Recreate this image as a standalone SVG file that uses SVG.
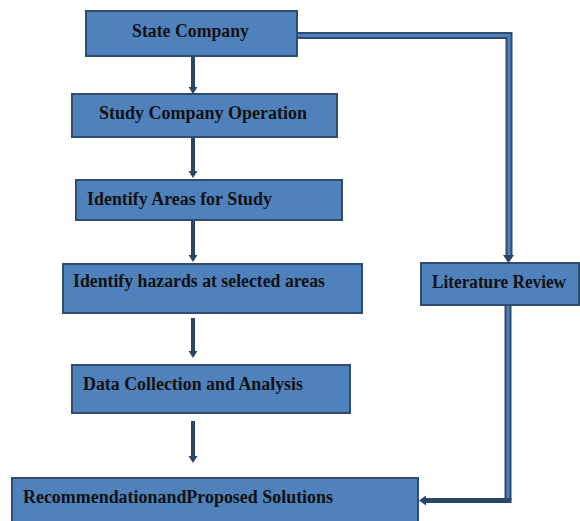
<svg xmlns="http://www.w3.org/2000/svg" width="580" height="521" viewBox="0 0 580 521">
<style>
.box{fill:#4F81BD;stroke:#2F4B6E;stroke-width:2}
.lbl{font-family:"Liberation Serif","Times New Roman",serif;font-weight:bold;font-size:18px;fill:#111}
.arr{stroke:#2B4468;stroke-width:4;fill:none}
.head{fill:#2B4468}
.dbl-o{stroke:#2F4B6E;stroke-width:7;fill:none}
.dbl-i{stroke:#4F81BD;stroke-width:3;fill:none}
</style>
<rect width="580" height="521" fill="#fff"/>
<g id="connectors">
  <line class="arr" x1="193" y1="57" x2="193" y2="88"/>
  <polygon class="head" points="188.5,87 197.5,87 193,94"/>
  <line class="arr" x1="193" y1="138" x2="193" y2="172"/>
  <polygon class="head" points="188.5,171 197.5,171 193,178"/>
  <line class="arr" x1="193" y1="221" x2="193" y2="256"/>
  <polygon class="head" points="188.5,255 197.5,255 193,262"/>
  <line class="arr" x1="193" y1="318" x2="193" y2="352"/>
  <polygon class="head" points="188.5,351 197.5,351 193,358"/>
  <line class="arr" x1="193" y1="421" x2="193" y2="457"/>
  <polygon class="head" points="188.5,456 197.5,456 193,463"/>
  <path class="dbl-o" d="M297,35.5 H509 V257"/>
  <path class="dbl-i" d="M297,35.5 H509 V257"/>
  <polygon class="head" points="503,255 514,255 508.5,263"/>
  <path class="dbl-o" d="M508,305 V500.5"/>
  <path class="dbl-i" d="M508,305 V498"/>
  <line x1="511.5" y1="500.5" x2="425" y2="500.5" stroke="#2B4468" stroke-width="5"/>
  <polygon class="head" points="426,495.5 426,505.5 419,500.5"/>
</g>
<g id="n-state">
  <rect class="box" x="86" y="11" width="211" height="45"/>
  <text class="lbl" x="132" y="37" textLength="117" lengthAdjust="spacingAndGlyphs">State Company</text>
</g>
<g id="n-study">
  <rect class="box" x="72" y="94" width="265" height="43"/>
  <text class="lbl" x="99" y="119" textLength="208" lengthAdjust="spacingAndGlyphs">Study Company Operation</text>
</g>
<g id="n-areas">
  <rect class="box" x="76" y="180" width="266" height="40"/>
  <text class="lbl" x="87" y="205" textLength="185" lengthAdjust="spacingAndGlyphs">Identify Areas for Study</text>
</g>
<g id="n-hazards">
  <rect class="box" x="63" y="264" width="299" height="49"/>
  <text class="lbl" x="73" y="287" textLength="252" lengthAdjust="spacingAndGlyphs">Identify hazards at selected areas</text>
</g>
<g id="n-lit">
  <rect class="box" x="421" y="263" width="158" height="42"/>
  <text class="lbl" x="432" y="288" textLength="134" lengthAdjust="spacingAndGlyphs">Literature Review</text>
</g>
<g id="n-data">
  <rect class="box" x="72" y="365" width="278" height="48"/>
  <text class="lbl" x="83" y="390" textLength="220" lengthAdjust="spacingAndGlyphs">Data Collection and Analysis</text>
</g>
<g id="n-rec">
  <rect class="box" x="12" y="478" width="406" height="50"/>
  <text class="lbl" x="23" y="503" textLength="310" lengthAdjust="spacingAndGlyphs">RecommendationandProposed Solutions</text>
</g>
</svg>
